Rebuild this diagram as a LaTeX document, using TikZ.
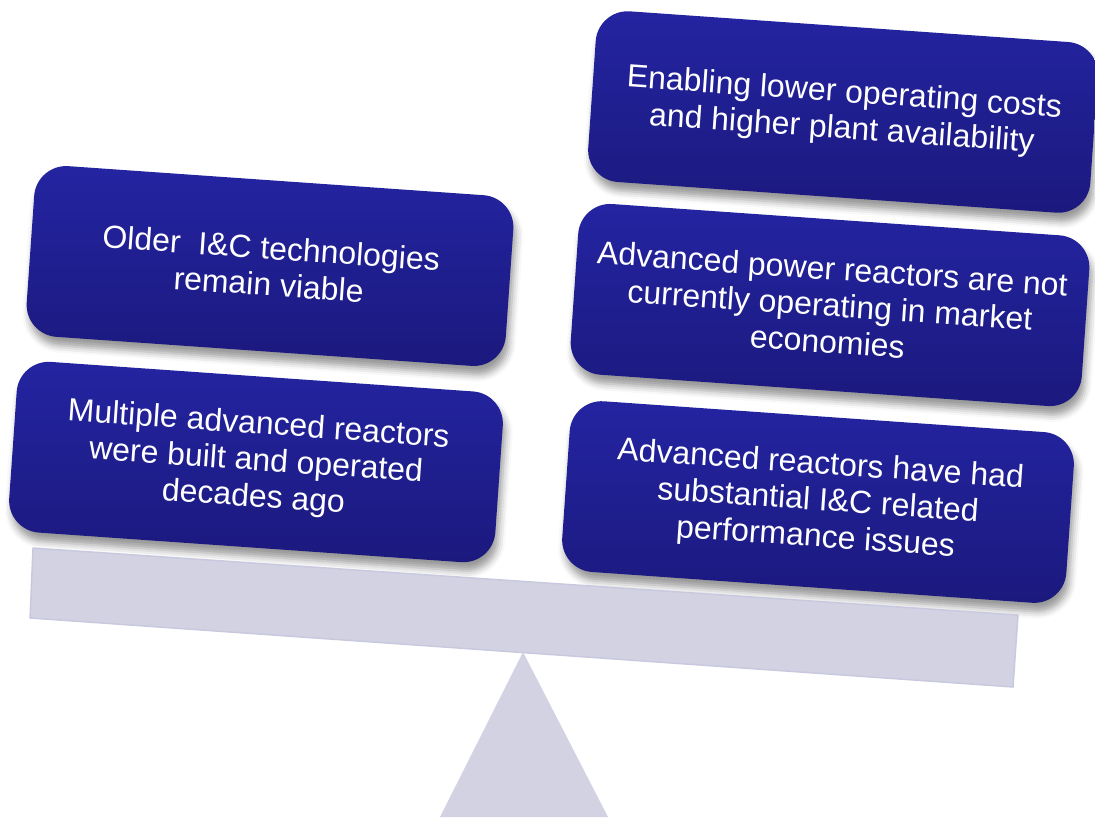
\documentclass[tikz,border=0pt]{standalone}
\usepackage{fontspec}
\setmainfont{Liberation Sans}
\usetikzlibrary{shadows.blur}
\definecolor{beamgray}{RGB}{210,210,226}
\definecolor{beamedge}{RGB}{200,200,222}
\definecolor{boxtop}{RGB}{36,36,162}
\definecolor{boxbottom}{RGB}{27,25,125}

\begin{document}
\begin{tikzpicture}[x=0.01cm, y=-0.01cm,
	reason/.style={rounded corners=0.32cm, top color=boxtop, bottom color=boxbottom,
		text=white, align=center, rotate=-4, inner sep=0pt,
		minimum height=1.71cm, font=\fontsize{9.1}{10.4}\selectfont,
		blur shadow={shadow xshift=0.8pt, shadow yshift=-2.5pt, shadow blur radius=2pt, shadow opacity=40}}]
	\useasboundingbox (0,0) rectangle (1095,817);
	\node[reason, minimum width=5.03cm] (enabling) at (843,112) {Enabling lower operating costs\\and higher plant availability};
	\node[reason, minimum width=5.12cm] (notoperating) at (830,305) {Advanced power reactors are not\\currently operating in market\\economies};
	\node[reason, minimum width=5.05cm] (issues) at (818,502) {Advanced reactors have had\\substantial I\&C related\\performance issues};
	\node[reason, minimum width=4.8cm] (older) at (270,266) {Older\ \ I\&C technologies\\remain viable};
	\node[reason, minimum width=4.87cm] (multiple) at (256,462) {Multiple advanced reactors\\were built and operated\\decades ago};
	\fill[beamgray, draw=beamedge] (33,548) -- (1018,615) -- (1013,687) -- (30,618) -- cycle;
	\fill[beamgray] (523,652) -- (608,817) -- (440,817) -- cycle;
\end{tikzpicture}
\end{document}
